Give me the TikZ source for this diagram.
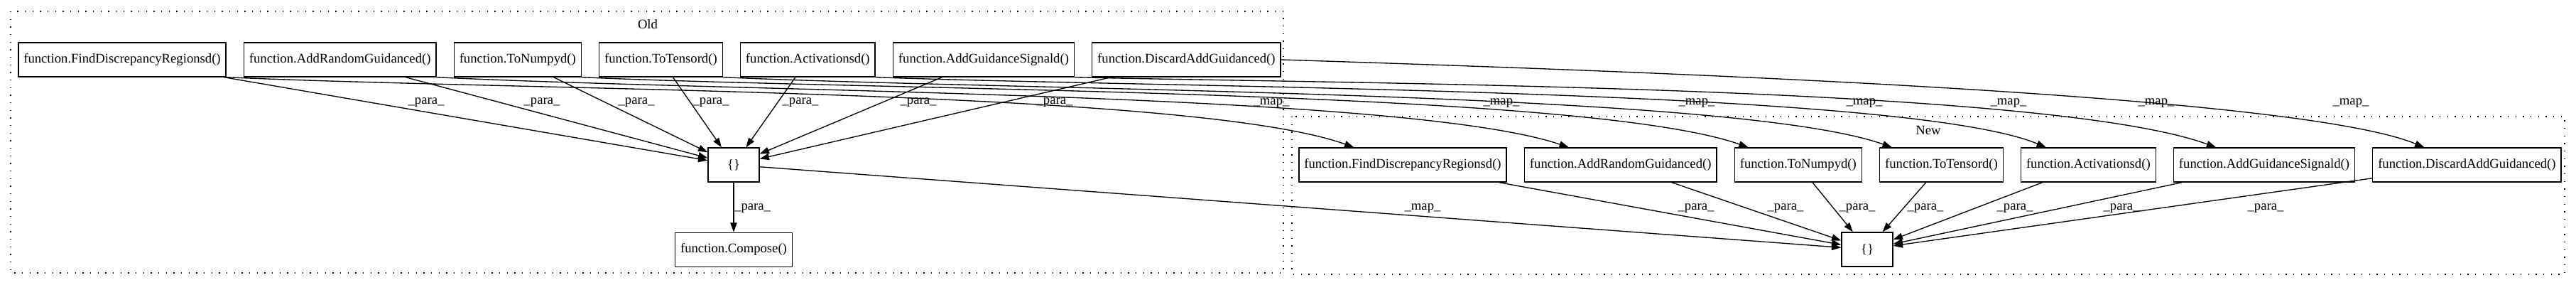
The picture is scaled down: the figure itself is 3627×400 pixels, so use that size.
\documentclass[tikz,border=0pt]{standalone}
\usepackage{fontspec}
\setmainfont{Liberation Serif}
\usetikzlibrary{arrows.meta,positioning}

\begin{document}
\begin{tikzpicture}[x=0.75pt, y=-0.75pt, >={Triangle[length=10pt,width=7pt]},
  fn/.style={draw, line width=1pt, minimum height=36pt, inner xsep=5.6pt, font=\fontsize{14}{16}\selectfont},
  setbox/.style={fn, minimum width=54pt},
  lbl/.style={font=\fontsize{14}{16}\selectfont, inner sep=0pt},
  para/.style={->, line width=1pt},
  mapedge/.style={->, line width=1pt},
  cluster/.style={draw, line width=1pt, dash pattern=on 1pt off 7pt}]
  \useasboundingbox (0,0) rectangle (3627,400);

  % clusters
  \draw[cluster] (15,16) rectangle (1807,384);
  \draw[cluster] (1819,164) rectangle (3611,386);
  \node[lbl] (oldlbl) at (912,34) {Old};
  \node[lbl] (newlbl) at (2715,183) {New};

  % old version
  \node[fn] (oFD) at (172,84) {function.FindDiscrepancyRegionsd()};
  \node[fn, right=18pt of oFD] (oAR) {function.AddRandomGuidanced()};
  \node[fn, right=18pt of oAR] (oTN) {function.ToNumpyd()};
  \node[fn, right=18pt of oTN] (oTT) {function.ToTensord()};
  \node[fn, right=18pt of oTT] (oAC) {function.Activationsd()};
  \node[fn, right=18pt of oAC] (oAGS) {function.AddGuidanceSignald()};
  \node[fn, right=18pt of oAGS] (oDAG) {function.DiscardAddGuidanced()};
  \node[setbox] (oset) at (1033,232) {\{\}};
  \node[fn, below=52.5pt of oset] (ocomp) {function.Compose()};

  % new version
  \node[fn] (nFD) at (1975,232) {function.FindDiscrepancyRegionsd()};
  \node[fn, right=18pt of nFD] (nAR) {function.AddRandomGuidanced()};
  \node[fn, right=18pt of nAR] (nTN) {function.ToNumpyd()};
  \node[fn, right=18pt of nTN] (nTT) {function.ToTensord()};
  \node[fn, right=18pt of nTT] (nAC) {function.Activationsd()};
  \node[fn, right=18pt of nAC] (nAGS) {function.AddGuidanceSignald()};
  \node[fn, right=18pt of nAGS] (nDAG) {function.DiscardAddGuidanced()};
  \node[setbox] (nset) at (2629,351) {\{\}};

  % old edges
  \draw[para] (oFD) -- (oset);
  \draw[para] (oAR) -- (oset);
  \draw[para] (oTN) -- (oset);
  \draw[para] (oTT) -- (oset);
  \draw[para] (oAC) -- (oset);
  \draw[para] (oAGS) -- (oset);
  \draw[para] (oDAG) -- (oset);
  \draw[para] (oset) -- (ocomp);
  \node[lbl] (lp1) at (600,144) {\_para\_};
  \node[lbl] (lp2) at (763,144) {\_para\_};
  \node[lbl] (lp3) at (896,144) {\_para\_};
  \node[lbl] (lp4) at (1001,144) {\_para\_};
  \node[lbl] (lp5) at (1127,144) {\_para\_};
  \node[lbl] (lp6) at (1293,144) {\_para\_};
  \node[lbl] (lp7) at (1485,144) {\_para\_};
  \node[lbl, anchor=west] (lp8) at (1034,293) {\_para\_};

  % old to new
  \draw[mapedge] (oFD.south east) .. controls (750,128) and (1680,126) .. (nFD);
  \draw[mapedge] (oAR.south east) .. controls (1050,130) and (1980,130) .. (nAR);
  \draw[mapedge] (oTN.south east) .. controls (1250,128) and (2230,126) .. (nTN);
  \draw[mapedge] (oTT.south east) .. controls (1450,128) and (2440,128) .. (nTT);
  \draw[mapedge] (oAC.south east) .. controls (1650,124) and (2680,124) .. (nAC);
  \draw[mapedge] (oAGS.south east) .. controls (1900,118) and (2880,120) .. (nAGS);
  \draw[mapedge] (oDAG.east) .. controls (2300,100) and (3230,132) .. (nDAG);
  \draw[mapedge] (oset) -- (nset);
  \node[lbl] (lm1) at (1790,145) {\_map\_};
  \node[lbl] (lm2) at (2114,145) {\_map\_};
  \node[lbl] (lm3) at (2389,145) {\_map\_};
  \node[lbl] (lm4) at (2625,145) {\_map\_};
  \node[lbl] (lm5) at (2828,145) {\_map\_};
  \node[lbl] (lm6) at (3036,145) {\_map\_};
  \node[lbl] (lm7) at (3310,145) {\_map\_};
  \node[lbl] (lm8) at (2003,293) {\_map\_};

  % new edges
  \draw[para] (nFD) -- (nset);
  \draw[para] (nAR) -- (nset);
  \draw[para] (nTN) -- (nset);
  \draw[para] (nTT) -- (nset);
  \draw[para] (nAC) -- (nset);
  \draw[para] (nAGS) -- (nset);
  \draw[para] (nDAG) -- (nset);
  \node[lbl] (ln1) at (2388,293) {\_para\_};
  \node[lbl] (ln2) at (2514,293) {\_para\_};
  \node[lbl] (ln3) at (2615,293) {\_para\_};
  \node[lbl] (ln4) at (2711,293) {\_para\_};
  \node[lbl] (ln5) at (2837,293) {\_para\_};
  \node[lbl] (ln6) at (2987,293) {\_para\_};
  \node[lbl] (ln7) at (3190,293) {\_para\_};
\end{tikzpicture}
\end{document}
